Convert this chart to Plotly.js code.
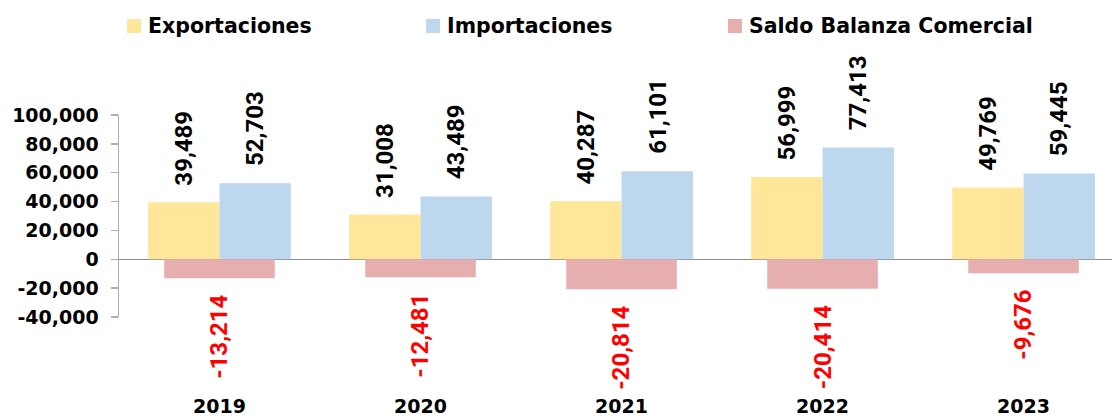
<!DOCTYPE html>
<html>
<head>
<meta charset="utf-8">
<script src="https://cdn.plot.ly/plotly-3.0.1.min.js"></script>
<style>html,body{margin:0;padding:0;background:#fff;}#chart{width:1112px;height:419px;}</style>
</head>
<body>
<div id="chart"></div>
<script>
const years = ["2019", "2020", "2021", "2022", "2023"];
const exportaciones = [39489, 31008, 40287, 56999, 49769];
const importaciones = [52703, 43489, 61101, 77413, 59445];
const saldo = [-13214, -12481, -20814, -20414, -9676];
const seriesNames = ["Exportaciones", "Importaciones", "Saldo Balanza Comercial"];
const yTicks = [100000, 80000, 60000, 40000, 20000, 0, -20000, -40000];

const colors = ["#FFE699", "#BDD7EE", "#E6AEAF"];
const BW = 0.355, SW = 0.55;
const fmt = v => v.toLocaleString("en-US");

const traces = [
  {type: "bar", x: years, y: exportaciones, name: seriesNames[0], width: BW, offset: -BW,
   marker: {color: colors[0]}, hoverinfo: "skip"},
  {type: "bar", x: years, y: importaciones, name: seriesNames[1], width: BW, offset: 0,
   marker: {color: colors[1]}, hoverinfo: "skip"},
  {type: "bar", x: years, y: saldo, name: seriesNames[2], width: SW, offset: -SW / 2,
   marker: {color: colors[2]}, hoverinfo: "skip"}
];

const labelFont = {family: "Roboto, 'Liberation Sans', sans-serif", size: 24, weight: 700, color: "#000000"};
const annotations = [];
years.forEach((yr, i) => {
  annotations.push({x: i - BW / 2, y: exportaciones[i], xref: "x", yref: "y", text: fmt(exportaciones[i]),
    textangle: -90, showarrow: false, xanchor: "center", yanchor: "bottom", yshift: 15, font: labelFont});
  annotations.push({x: i + BW / 2, y: importaciones[i], xref: "x", yref: "y", text: fmt(importaciones[i]),
    textangle: -90, showarrow: false, xanchor: "center", yanchor: "bottom", yshift: 15, font: labelFont});
  annotations.push({x: i, y: saldo[i], xref: "x", yref: "y", text: fmt(saldo[i]),
    textangle: -90, showarrow: false, xanchor: "center", yanchor: "top", yshift: -15,
    font: Object.assign({}, labelFont, {color: "#FF0000"})});
});

// manual legend (positions in pixels converted to paper coords)
const legendX = [127, 426, 728];
const PL = 119, PW = 993, PT = 115, PH = 202;
const px = v => (v - PL) / PW;
const py = v => 1 + (PT - v) / PH;
const shapes = [];
const legFont = {family: "'DejaVu Sans', sans-serif", size: 20.5, weight: 700, color: "#000000"};
seriesNames.forEach((nm, k) => {
  shapes.push({type: "rect", xref: "paper", yref: "paper",
    x0: px(legendX[k]), x1: px(legendX[k] + 14),
    y0: py(33), y1: py(19),
    fillcolor: colors[k], line: {width: 0}});
  annotations.push({xref: "paper", yref: "paper", x: px(legendX[k] + 19),
    y: py(26), text: nm, showarrow: false, xanchor: "left", yanchor: "middle",
    font: legFont});
});

const layout = {
  width: 1112, height: 419,
  margin: {l: PL, r: 0, t: PT, b: 102},
  paper_bgcolor: "#ffffff", plot_bgcolor: "#ffffff",
  barmode: "overlay",
  showlegend: false,
  xaxis: {
    type: "category", range: [-0.5, 4.44],
    showline: false, showgrid: false, zeroline: false, ticks: "",
    ticklabelstandoff: 76,
    tickfont: {family: "'DejaVu Sans', sans-serif", size: 19, weight: 700, color: "#000000"}
  },
  yaxis: {
    range: [-40000, 100000], tickvals: yTicks, ticktext: yTicks.map(fmt),
    showgrid: false, showline: true, linecolor: "#ADADAD", linewidth: 1.5,
    ticks: "outside", ticklen: 7, tickcolor: "#ADADAD", tickwidth: 1.5,
    ticklabelstandoff: 8,
    zeroline: true, zerolinecolor: "#8C8C8C", zerolinewidth: 1.5,
    tickfont: {family: "'DejaVu Sans', sans-serif", size: 19, weight: 700, color: "#000000"}
  },
  annotations: annotations,
  shapes: shapes
};

Plotly.newPlot("chart", traces, layout, {displayModeBar: false, staticPlot: true});
</script>
</body>
</html>
